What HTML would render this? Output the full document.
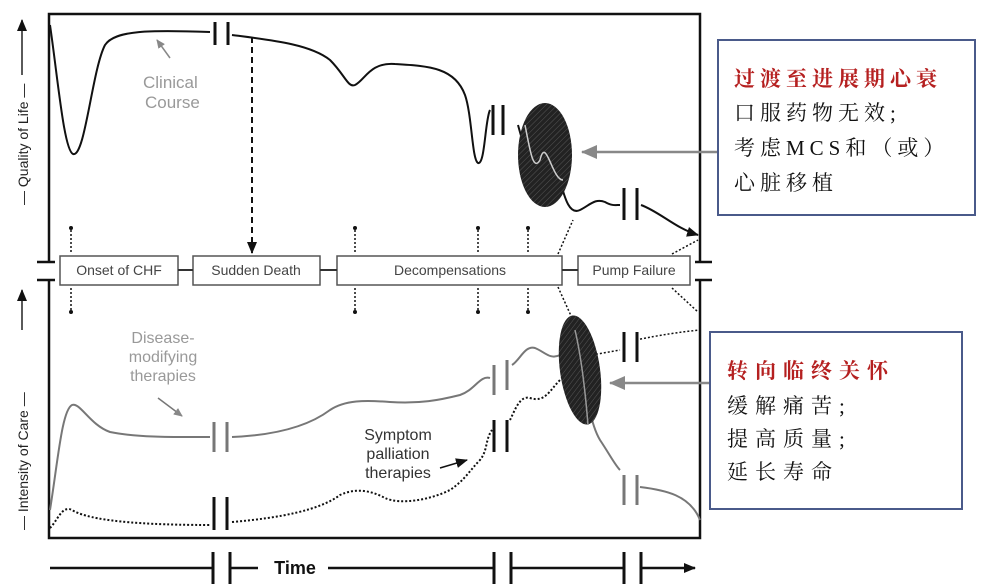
<!DOCTYPE html>
<html><head><meta charset="utf-8"><style>
body{margin:0;background:#fff;width:985px;height:588px;overflow:hidden}
svg{display:block}
text{font-family:"Liberation Sans",sans-serif}
.cn{font-family:"Liberation Serif","Noto Serif CJK SC",serif;font-size:21px;fill:#111;letter-spacing:5px}
</style></head><body>
<svg width="985" height="588" viewBox="0 0 985 588">
<defs>
<marker id="ah" markerUnits="userSpaceOnUse" markerWidth="12" markerHeight="10" refX="11" refY="5" orient="auto"><path d="M0,0L12,5L0,10z" fill="#111"/></marker>
<marker id="ga" markerUnits="userSpaceOnUse" markerWidth="16" markerHeight="14" refX="15" refY="7" orient="auto"><path d="M0,0L16,7L0,14z" fill="#888"/></marker>
<marker id="gs" markerUnits="userSpaceOnUse" markerWidth="9" markerHeight="8" refX="8" refY="4" orient="auto"><path d="M0,0L9,4L0,8z" fill="#888"/></marker>
<pattern id="hat" width="4" height="4" patternUnits="userSpaceOnUse" patternTransform="rotate(45)"><rect width="4" height="4" fill="#222"/><line x1="0" y1="0" x2="0" y2="4" stroke="#555" stroke-width="1"/></pattern>
</defs>
<g stroke="#111" stroke-width="2.5" fill="none">
<path d="M49,262 V14 H700 V262"/>
<path d="M49,280 V538 H700 V280"/>
<path d="M37,262 H55 M37,280 H55 M695,262 H712 M695,280 H712"/>
</g>
<text transform="translate(28,205) rotate(-90)" style="font-size:14px;fill:#222">— Quality of Life —</text>
<path d="M22,75 V20" stroke="#222" stroke-width="1.5" marker-end="url(#ah)"/>
<text transform="translate(28,530) rotate(-90)" style="font-size:14px;fill:#222">— Intensity of Care —</text>
<path d="M22,330 V290" stroke="#222" stroke-width="1.5" marker-end="url(#ah)"/>
<g fill="none" stroke="#111" stroke-width="2">
<path d="M50,25 C58,80 64,150 73,154 C85,158 92,70 105,45 C115,30 150,30 210,32"/>
<path d="M232,35 C270,40 310,44 330,60 C345,75 348,88 355,85 C365,80 370,62 395,64 C430,66 455,68 465,95 C472,115 472,160 478,163 C485,165 485,120 490,110"/>
<path d="M518,125 C525,150 530,170 537,160 C545,140 550,180 560,180 C565,200 570,215 580,210 C590,205 595,198 605,202 C612,206 615,205 620,205"/>
<path d="M641,205 C660,212 675,228 698,235" marker-end="url(#ah)"/>
<path d="M215,22 V45 M228,22 V45 M493,105 V135 M503,105 V135 M624,188 V220 M637,188 V220" stroke-width="3"/>
</g>
<path d="M170,58 L157,40" stroke="#888" stroke-width="1.5" marker-end="url(#gs)"/>
<text x="143" y="88" style="font-size:17px;fill:#999">Clinical</text>
<text x="145" y="108" style="font-size:17px;fill:#999">Course</text>
<path d="M252,37 V253" stroke="#111" stroke-width="2" stroke-dasharray="6,4" marker-end="url(#ah)"/>
<ellipse cx="545" cy="155" rx="27" ry="52" fill="url(#hat)"/>
<path d="M525,125 C530,150 533,172 540,160 C546,135 552,180 563,180" stroke="#ccc" stroke-width="1.5" fill="none"/>
<path d="M718,152 H582" stroke="#888" stroke-width="2.5" marker-end="url(#ga)"/>
<path d="M710,383 H610" stroke="#888" stroke-width="2.5" marker-end="url(#ga)"/>
<g stroke="#111" stroke-width="1.5" stroke-dasharray="2,2" fill="none">
<path d="M71,252 V228 M71,288 V312 M355,252 V228 M355,288 V312 M478,252 V228 M478,288 V312 M528,252 V228 M528,288 V312"/>
<path d="M558,254 L573,220 M558,287 L572,318 M672,254 L698,240 M672,288 L698,312"/>
<path d="M592,355 L620,350 M636,340 C660,335 680,332 700,330"/>
</g>
<g fill="#111"><circle cx="71" cy="228" r="2"/><circle cx="71" cy="312" r="2"/><circle cx="355" cy="228" r="2"/><circle cx="355" cy="312" r="2"/><circle cx="478" cy="228" r="2"/><circle cx="478" cy="312" r="2"/><circle cx="528" cy="228" r="2"/><circle cx="528" cy="312" r="2"/></g>
<g fill="#fff" stroke="#555" stroke-width="1.5">
<rect x="60" y="256" width="118" height="29"/><rect x="193" y="256" width="127" height="29"/><rect x="337" y="256" width="225" height="29"/><rect x="578" y="256" width="112" height="29"/>
</g>
<path d="M178,270H193 M320,270H337 M562,270H578" stroke="#333" stroke-width="2"/>
<g style="font-size:14px;fill:#444" text-anchor="middle">
<text x="119" y="275">Onset of CHF</text>
<text x="256" y="275">Sudden Death</text>
<text x="450" y="275">Decompensations</text>
<text x="634" y="275">Pump Failure</text>
</g>
<g fill="none" stroke="#777" stroke-width="2">
<path d="M50,510 C58,460 62,410 72,405 C80,402 90,425 110,432 C140,438 180,437 210,437"/>
<path d="M232,437 C280,435 310,425 330,410 C345,400 365,400 390,402 C420,404 440,400 460,395 C475,390 480,375 490,378"/>
<path d="M512,365 C520,360 525,345 535,348 C545,352 550,360 560,355 C570,345 575,335 580,345 C585,380 588,420 600,440 C610,455 615,465 620,470"/>
<path d="M640,487 C665,490 690,495 700,520"/>
<path d="M214,422 V452 M227,422 V452 M494,365 V395 M507,360 V390 M624,475 V505 M637,475 V505" stroke-width="3"/>
</g>
<g fill="none" stroke="#111" stroke-width="2" stroke-dasharray="2,2">
<path d="M50,528 C58,520 62,505 72,510 C85,518 120,525 210,525"/>
<path d="M232,522 C280,518 320,510 340,495 C355,488 370,490 385,498 C400,505 430,500 450,490 C465,480 470,470 480,460 C488,450 485,440 492,430"/>
<path d="M510,420 C515,410 520,395 530,398 C545,403 550,390 560,380 C565,375 568,370 572,365"/>
</g>
<path d="M214,497 V530 M227,497 V530 M494,420 V452 M507,420 V452 M624,332 V362 M637,332 V362" stroke="#111" stroke-width="3"/>
<ellipse cx="580" cy="370" rx="20" ry="55" transform="rotate(-8 580 370)" fill="url(#hat)"/>
<path d="M575,330 C582,360 586,400 588,425" stroke="#999" stroke-width="1.5" fill="none"/>
<path d="M158,398 L182,416" stroke="#777" stroke-width="1.5" marker-end="url(#gs)"/>
<path d="M440,468 L467,460" stroke="#111" stroke-width="1.5" marker-end="url(#ah)"/>
<g style="font-size:16px;fill:#999" text-anchor="middle">
<text x="163" y="343">Disease-</text>
<text x="163" y="362">modifying</text>
<text x="163" y="381">therapies</text>
</g>
<g style="font-size:16px;fill:#333" text-anchor="middle">
<text x="398" y="440">Symptom</text>
<text x="398" y="459">palliation</text>
<text x="398" y="478">therapies</text>
</g>
<g stroke="#111" stroke-width="2.5" fill="none">
<path d="M50,568 H213 M230,568 H494 M511,568 H624 M641,568 H695" marker-end="url(#ah)"/>
<path d="M213,552 V584 M230,552 V584 M494,552 V584 M511,552 V584 M624,552 V584 M641,552 V584" stroke-width="3"/>
</g>
<rect x="258" y="558" width="70" height="20" fill="#fff"/>
<text x="295" y="574" text-anchor="middle" style="font-size:18px;font-weight:bold;fill:#111">Time</text>
<rect x="718" y="40" width="257" height="175" fill="#fff" stroke="#4a5a8a" stroke-width="2"/>
<text class="cn" x="734" y="86" style="fill:#b52020;font-weight:bold">过渡至进展期心衰</text>
<text class="cn" x="734" y="120">口服药物无效;</text>
<text class="cn" x="734" y="155">考虑MCS和（或）</text>
<text class="cn" x="734" y="190">心脏移植</text>
<rect x="710" y="332" width="252" height="177" fill="#fff" stroke="#4a5a8a" stroke-width="2"/>
<text class="cn" x="727" y="378" style="fill:#b52020;font-weight:bold;letter-spacing:7px">转向临终关怀</text>
<text class="cn" x="727" y="413" style="letter-spacing:7px">缓解痛苦;</text>
<text class="cn" x="727" y="446" style="letter-spacing:7px">提高质量;</text>
<text class="cn" x="727" y="479" style="letter-spacing:7px">延长寿命</text>
</svg>
</body></html>
